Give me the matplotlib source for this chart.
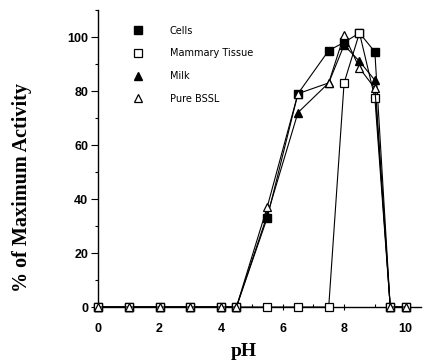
import matplotlib
matplotlib.use("Agg")
import matplotlib.pyplot as plt
from matplotlib.ticker import MultipleLocator

# Data
ph = [0, 1, 2, 3, 4, 4.5, 5.5, 6.5, 7.5, 8, 8.5, 9, 9.5, 10]
cells    = [0, 0, 0, 0, 0, 0, 33, 79, 95, 98, 101.5, 94.5, 0, 0]
mammary  = [0, 0, 0, 0, 0, 0, 0, 0, 0, 83, 101.5, 77.5, 0, 0]
milk     = [0, 0, 0, 0, 0, 0, 34, 72, 83, 97, 91, 84, 0, 0]
pure     = [0, 0, 0, 0, 0, 0, 37, 79, 83, 100.7, 88.5, 81, 0, 0]
labels = ["Cells", "Mammary Tissue", "Milk", "Pure BSSL"]
xticks = [0, 2, 4, 6, 8, 10]
yticks = [0, 20, 40, 60, 80, 100]

W, H = 428, 364
fig = plt.figure(figsize=(W/100, H/100), dpi=100)
ax = fig.add_axes([98/W, (H-307)/H, (421-98)/W, 297/H])

ms = 5.5
lw = 0.8
l1, = ax.plot(ph, cells, color="black", lw=lw, marker="s", ms=ms, mfc="black", mec="black", clip_on=False, zorder=3)
l3, = ax.plot(ph, milk, color="black", lw=lw, marker="^", ms=ms+0.5, mfc="black", mec="black", clip_on=False, zorder=4)
l2, = ax.plot(ph, mammary, color="black", lw=lw, marker="s", ms=ms, mfc="white", mec="black", mew=0.9, clip_on=False, zorder=5)
l4, = ax.plot(ph, pure, color="black", lw=lw, marker="^", ms=ms+0.5, mfc="white", mec="black", mew=0.9, clip_on=False, zorder=6)

ax.set_xlim(0, 10.5)
ax.set_ylim(0, 110)
for s in ["top", "right"]:
    ax.spines[s].set_visible(False)
for s in ["left", "bottom"]:
    ax.spines[s].set_linewidth(1.0)

ax.set_xticks(xticks)
ax.set_yticks(yticks)
ax.xaxis.set_minor_locator(MultipleLocator(1))
ax.yaxis.set_minor_locator(MultipleLocator(10))
ax.tick_params(axis="x", which="major", direction="inout", length=5, width=0.8, pad=9)
ax.tick_params(axis="x", which="minor", direction="in", length=2.5, width=0.8)
ax.tick_params(axis="y", which="major", direction="out", length=5, width=0.8, pad=2)
ax.tick_params(axis="y", which="minor", direction="out", length=2.5, width=0.8)
for lab in ax.get_xticklabels() + ax.get_yticklabels():
    lab.set_fontfamily("Liberation Sans")
    lab.set_fontweight("bold")
    lab.set_fontsize(9)

fig.text(244/W, 1 - 352/H, "pH", fontfamily="Liberation Serif", fontweight="bold",
         fontsize=14, ha="center", va="center")
fig.text(22/W, 1 - 188/H, "% of Maximum Activity", fontfamily="Liberation Serif",
         fontweight="bold", fontsize=14.5, ha="center", va="center", rotation=90)

leg = ax.legend([l1, l2, l3, l4], labels, loc="upper left", bbox_to_anchor=(0.108, 0.947),
                frameon=False, numpoints=1, handlelength=1.0, handletextpad=2.8,
                labelspacing=1.3, borderpad=0, borderaxespad=0,
                prop={"family": "DejaVu Sans", "size": 7})
for h in leg.legend_handles:
    h.set_linestyle("none")

fig.savefig("out.png", dpi=100)
